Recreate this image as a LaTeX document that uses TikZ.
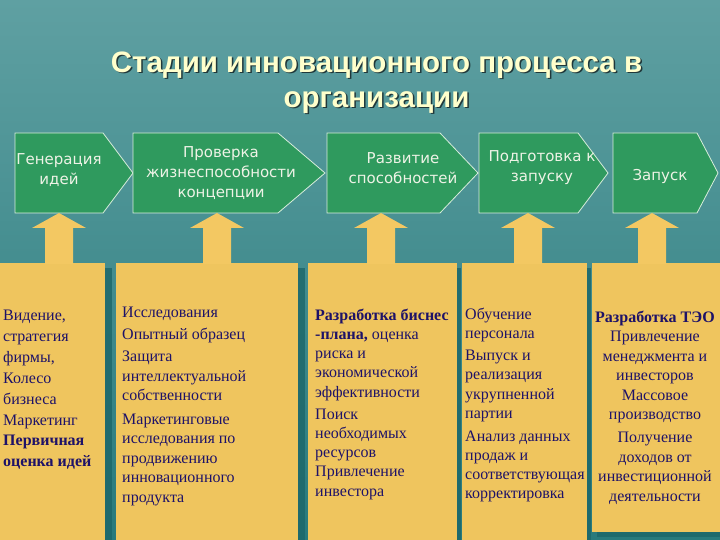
\documentclass[tikz,border=0pt]{standalone}
\usepackage{fontspec}
\setmainfont{Liberation Serif}
\newfontfamily\titlefont{Liberation Sans}
\newfontfamily\chevfont{DejaVu Sans}
\definecolor{bgtop}{HTML}{5FA0A2}
\definecolor{bgmid}{HTML}{4E9294}
\definecolor{bgbot}{HTML}{287A7C}
\definecolor{chevfill}{HTML}{2F9A5E}
\definecolor{chevline}{HTML}{D8EEDC}
\definecolor{chevtext}{HTML}{EEF3E6}
\definecolor{yel}{HTML}{EFC55E}
\definecolor{arrowyel}{HTML}{F3C862}
\definecolor{shadowc}{HTML}{1C6669}
\definecolor{navy}{HTML}{1E1268}
\definecolor{titlecol}{HTML}{FFFFCC}
\definecolor{titleshadow}{HTML}{20383A}
\begin{document}
\begin{tikzpicture}[x=1pt,y=-1pt,
  chev/.style={fill=chevfill,draw=chevline,line width=0.8pt},
  chevtxt/.style={font=\chevfont\fontsize{15}{20}\selectfont,text=chevtext,align=center,inner sep=0pt},
  ybox/.style={fill=yel,draw=none,anchor=north west,inner sep=0pt},
  yshadow/.style={fill=shadowc,opacity=0.8},
  uparrow/.style={fill=arrowyel},
  boxtxt/.style={font=\fontsize{16}{19.5}\selectfont,text=navy,inner sep=0pt,anchor=north west,align=left},
  tightbox/.style={font=\fontsize{16}{19.1}\selectfont},
  titletxt/.style={font=\titlefont\bfseries\fontsize{29.5}{35}\selectfont,align=center,inner sep=0pt}
]
\useasboundingbox (0,0) rectangle (720,540);
\shade[top color=bgtop, middle color=bgmid, bottom color=bgbot] (0,0) rectangle (720,540);

% title
\node[titletxt,text=titleshadow] (tsh) at (378,84) {Стадии инновационного процесса в\\организации};
\node[titletxt,text=titlecol] (title) at (376.5,82.5) {Стадии инновационного процесса в\\организации};

% chevrons
\path[chev] (15,133) -- (103,133) -- (133,173) -- (103,213) -- (15,213) -- cycle;
\path[chev] (133,133) -- (278,133) -- (325,173) -- (278,213) -- (133,213) -- cycle;
\path[chev] (327,133) -- (440,133) -- (478,173) -- (440,213) -- (327,213) -- cycle;
\path[chev] (479,133) -- (578,133) -- (608,173) -- (578,213) -- (479,213) -- cycle;
\path[chev] (613,133) -- (697,133) -- (718,173) -- (697,213) -- (613,213) -- cycle;
\node[chevtxt] (c1) at (59,170) {Генерация\\идей};
\node[chevtxt] (c2) at (221,173) {Проверка\\жизнеспособности\\концепции};
\node[chevtxt] (c3) at (403,168) {Развитие\\способностей};
\node[chevtxt] (c4) at (542,168) {Подготовка к\\запуску};
\node[chevtxt] (c5) at (660,176) {Запуск};

% shadows of boxes
\fill[yshadow] (105,268) rectangle (112,540);
\fill[yshadow] (298,268) rectangle (305,540);
\fill[yshadow] (457,268) rectangle (461,540);
\fill[yshadow] (587,268) rectangle (591,540);
\fill[yshadow] (597,532) rectangle (720,537);

% yellow boxes
\node[ybox,minimum width=105pt,minimum height=277pt] (b1) at (0,263) {};
\node[ybox,minimum width=182pt,minimum height=277pt] (b2) at (116,263) {};
\node[ybox,minimum width=149pt,minimum height=277pt] (b3) at (308,263) {};
\node[ybox,minimum width=125pt,minimum height=277pt] (b4) at (462,263) {};
\node[ybox,minimum width=128pt,minimum height=269pt] (b5) at (592,263) {};

% up arrows
\foreach \cx in {59,217,381,528,652}{
  \fill[uparrow] (\cx-14,264) -- (\cx-14,228) -- (\cx-27,228) -- (\cx,213) -- (\cx+27,228) -- (\cx+14,228) -- (\cx+14,264) -- cycle;
}

% box texts
\node[boxtxt] (t1) at (3,309.5) {Видение,\\[1.5pt]стратегия\\[1.5pt]фирмы,\\[1.5pt]Колесо\\[1.5pt]бизнеса\\[1.5pt]Маркетинг\\[1pt]\textbf{Первичная}\\[1pt]\textbf{оценка идей}};
\node[boxtxt] (t2) at (122,306.5) {Исследования\\[2.5pt]Опытный образец\\[3pt]Защита\\интеллектуальной\\собственности\\[4pt]Маркетинговые\\исследования по\\продвижению\\инновационного\\продукта};
\node[boxtxt,tightbox] (t3) at (315,309) {\textbf{Разработка биснес}\\\textbf{-плана,} оценка\\риска и\\экономической\\эффективности\\[3.5pt]Поиск\\необходимых\\ресурсов\\Привлечение\\инвестора};
\node[boxtxt,tightbox] (t4) at (465,307.5) {Обучение\\персонала\\[3.5pt]Выпуск и\\реализация\\укрупненной\\партии\\[4pt]Анализ данных\\продаж и\\соответствующая\\корректировка};
\node[boxtxt,anchor=north,align=center] (t5) at (655,310.5) {\textbf{Разработка ТЭО}\\Привлечение\\менеджмента и\\инвесторов\\Массовое\\производство\\[3.5pt]Получение\\доходов от\\инвестиционной\\деятельности};
\end{tikzpicture}
\end{document}
